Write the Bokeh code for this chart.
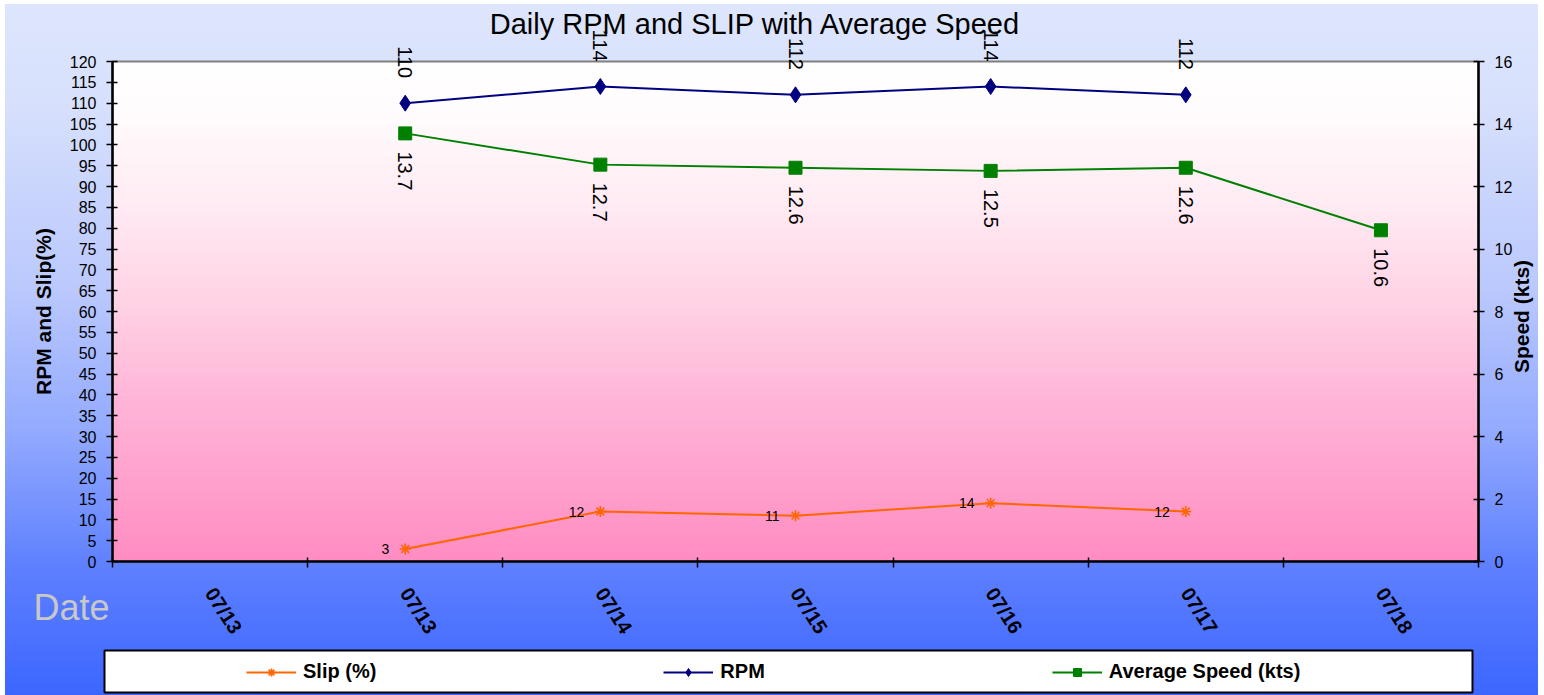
import math
import numpy as np
from bokeh.plotting import figure
from bokeh.models import (Range1d, LinearAxis, FixedTicker, Legend, LegendItem, Label,
                          BoxAnnotation)
from bokeh.embed import file_html
from bokeh.resources import INLINE
from bokeh.core.properties import value

# ---------------- data ----------------
categories = ["07/13", "07/13", "07/14", "07/15", "07/16", "07/17", "07/18"]
slip_idx = [1, 2, 3, 4, 5]
slip = [3, 12, 11, 14, 12]
rpm_idx = [1, 2, 3, 4, 5]
rpm = [110, 114, 112, 114, 112]
speed_idx = [1, 2, 3, 4, 5, 6]
speed = [13.7, 12.7, 12.6, 12.5, 12.6, 10.6]
left_ticks = list(range(0, 121, 5))
right_ticks = list(range(0, 17, 2))

FONT = "Liberation Sans"
ORANGE = "#ff6600"
NAVY = "#000080"
GREEN = "#008000"

# layout (px): whole canvas is the frame; the plot area sits inside it
CW, CH = 1538, 695
PL, PT, PW, PH = 112, 61, 1366, 500      # plot area left, top, width, height
n = len(categories)
cx0, cx1 = -0.5, n - 0.5                 # category extent
ly0, ly1 = left_ticks[0], left_ticks[-1]
ry0, ry1 = right_ticks[0], right_ticks[-1]
ux = (cx1 - cx0) / PW
uy = (ly1 - ly0) / PH
ur = (ry1 - ry0) / PH


def X(px):   # canvas px -> x data
    return cx0 + (px - PL) * ux


def Y(py):   # canvas px -> left y data
    return ly0 + (PT + PH - py) * uy


p = figure(frame_width=CW, frame_height=CH, output_backend="svg", toolbar_location=None,
           x_range=Range1d(X(0), X(CW)), y_range=Range1d(Y(CH), Y(0)),
           min_border=0)
p.extra_y_ranges = {"speed": Range1d(ry0 - (CH - PT - PH) * ur, ry1 + PT * ur)}
p.title.visible = False

p.styles = {"background": ("linear-gradient(to right, #ffffff 5px, rgba(255,255,255,0) 5px), "
                           "linear-gradient(to bottom, #ffffff 4px, rgba(255,255,255,0) 4px), "
                           "linear-gradient(to bottom, #dde6fc 0%, #d8e1fc 14%, #bac8fd 42%, "
                           "#93aafe 62%, #5d7fff 82%, #3c66ff 100%)")}
p.border_fill_color = None
p.background_fill_color = None
p.outline_line_color = None
p.xgrid.visible = False
p.ygrid.visible = False

# plot-area gradient (white -> pink), purely decorative
stops_t = [0.0, 0.12, 0.32, 0.52, 0.72, 0.9, 1.0]
stops_c = [(255, 141, 195), (255, 156, 202), (255, 181, 216), (255, 211, 229),
           (255, 236, 244), (255, 252, 253), (255, 255, 255)]
N = 256
tt = np.linspace(0, 1, N)
img = np.zeros((N, 1), dtype=np.uint32)
view = img.view(dtype=np.uint8).reshape((N, 1, 4))
for k in range(3):
    view[:, 0, k] = np.interp(tt, stops_t, [c[k] for c in stops_c]).astype(np.uint8)
view[:, 0, 3] = 255
p.image_rgba(image=[img], x=cx0, y=ly0, dw=cx1 - cx0, dh=ly1 - ly0, level="image")
# plot-area border (grey, visible along the top)
p.add_layout(BoxAnnotation(left=cx0, right=cx1, bottom=ly0, top=ly1, fill_alpha=0,
                           line_color="#808080", line_alpha=1, line_width=2, level="underlay"))

# ---------------- axes ----------------
xa = p.xaxis[0]
xa.fixed_location = ly0
xa.bounds = (cx0, cx1)
xa.ticker = FixedTicker(ticks=list(range(n)), minor_ticks=[i - 0.5 for i in range(n + 1)])
xa.major_label_overrides = {i: c for i, c in enumerate(categories)}
xa.major_tick_in = 0
xa.major_tick_out = 0
xa.minor_tick_in = 4
xa.minor_tick_out = 6
xa.minor_tick_line_color = "black"
xa.minor_tick_line_width = 1.5
xa.axis_line_width = 2.5
xa.axis_line_color = "black"
xa.major_label_orientation = -1.0
xa.major_label_standoff = 22
xa.major_label_text_font = FONT
xa.major_label_text_font_size = "20px"
xa.major_label_text_font_style = "bold"
xa.major_label_text_color = "black"

ya = p.yaxis[0]
ya.fixed_location = cx0
ya.bounds = (ly0, ly1)
ya.ticker = FixedTicker(ticks=left_ticks)
ya.minor_tick_line_color = None
ya.major_tick_in = 5
ya.major_tick_out = 6
ya.major_tick_line_width = 1.5
ya.major_tick_line_color = "black"
ya.axis_line_width = 2.5
ya.axis_line_color = "black"
ya.major_label_standoff = 10
ya.major_label_text_font = FONT
ya.major_label_text_font_size = "16px"
ya.major_label_text_color = "black"
ya.axis_label = "RPM and Slip(%)"
ya.axis_label_text_font = FONT
ya.axis_label_text_font_size = "21px"
ya.axis_label_text_font_style = "bold"
ya.axis_label_text_color = "black"
ya.axis_label_standoff = 12

ra = LinearAxis(y_range_name="speed", ticker=FixedTicker(ticks=right_ticks))
ra.fixed_location = cx1
ra.bounds = (ry0, ry1)
ra.minor_tick_line_color = None
ra.major_tick_in = 5
ra.major_tick_out = 6
ra.major_tick_line_width = 1.5
ra.major_tick_line_color = "black"
ra.axis_line_width = 2.5
ra.axis_line_color = "black"
ra.major_label_standoff = 10
ra.major_label_text_font = FONT
ra.major_label_text_font_size = "16px"
ra.major_label_text_color = "black"
p.add_layout(ra, "right")

# right axis title, reading bottom-to-top like the original
p.add_layout(Label(x=X(1521), y=Y(316), text="Speed (kts)", angle=math.pi / 2,
                   text_align="center", text_baseline="middle",
                   text_font=FONT, text_font_size="21px", text_font_style="bold",
                   text_color="black"))

# ---------------- title ----------------
p.add_layout(Label(x=X(755), y=Y(23), text="Daily RPM and SLIP with Average Speed",
                   text_align="center", text_baseline="alphabetic",
                   text_font=FONT, text_font_size="29px", text_color="black"))

# ---------------- series ----------------
slip_line = p.line(slip_idx, slip, line_color=ORANGE, line_width=2)
slip_mark = p.scatter(slip_idx, slip, marker="asterisk", size=11, line_color=ORANGE, line_width=1.6)
rpm_line = p.line(rpm_idx, rpm, line_color=NAVY, line_width=2)
rpm_mark = p.scatter(rpm_idx, rpm, marker="diamond", size=16, fill_color=NAVY, line_color=NAVY)
spd_line = p.line(speed_idx, speed, line_color=GREEN, line_width=2, y_range_name="speed")
spd_mark = p.scatter(speed_idx, speed, marker="square", size=13, fill_color=GREEN, line_color=GREEN,
                     y_range_name="speed")

# data labels
p.text(x=slip_idx, y=slip, text=[str(int(round(v))) for v in slip], text_font=value(FONT),
       text_font_size="14px", text_align="right", text_baseline="middle", x_offset=-16,
       text_color="black")
p.text(x=rpm_idx, y=rpm, text=[str(int(round(v))) for v in rpm], text_font=value(FONT),
       text_font_size="20px", text_align="right", text_baseline="middle", y_offset=-25,
       angle=-math.pi / 2, text_color="black")
p.text(x=speed_idx, y=speed, text=[f"{v:.1f}" for v in speed], text_font=value(FONT),
       text_font_size="20px", text_align="left", text_baseline="middle", y_offset=18,
       angle=-math.pi / 2, text_color="black", y_range_name="speed")

# "Date" caption at left of the category labels
p.add_layout(Label(x=X(33), y=Y(607), text="Date", text_baseline="alphabetic",
                   text_font=FONT, text_font_size="36px", text_color="#c8c8c8"))

# legend box
p.add_layout(BoxAnnotation(left=X(104), right=X(1472), top=Y(650), bottom=Y(692),
                           fill_color="white", fill_alpha=1, line_color="black", line_alpha=1,
                           line_width=2, level="underlay"))

legend = Legend(items=[LegendItem(label="Slip (%)", renderers=[slip_line, slip_mark]),
                       LegendItem(label="RPM", renderers=[rpm_line, rpm_mark]),
                       LegendItem(label="Average Speed (kts)", renderers=[spd_line, spd_mark])],
                orientation="horizontal", location=(246, CH - 683), spacing=287,
                glyph_width=50, glyph_height=20, label_standoff=7, padding=0, margin=0,
                label_text_font=FONT, label_text_font_size="20px", label_text_font_style="bold",
                label_text_color="black", border_line_alpha=0, background_fill_alpha=0)
p.add_layout(legend, "center")

open("out.html", "w").write(file_html(p, INLINE))
